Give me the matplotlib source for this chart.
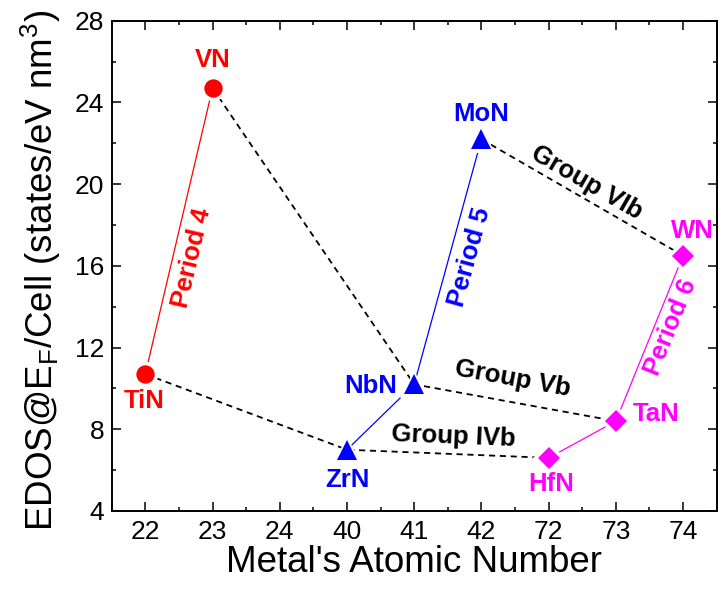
import numpy as np
import matplotlib
matplotlib.use("Agg")
import matplotlib.pyplot as plt
from matplotlib import font_manager

plt.rcParams['font.family'] = ['Liberation Sans', 'DejaVu Sans']
plt.rcParams['mathtext.default'] = 'regular'

installed = {f.name for f in font_manager.fontManager.ttflist}
if 'Liberation Sans Narrow' in installed:
    axis_label_font = dict(family=['Liberation Sans Narrow', 'Liberation Sans'], size=31)
else:
    axis_label_font = dict(family=['Liberation Sans', 'DejaVu Sans'], size=26.5)

# Category axis: metal atomic numbers
atomic_numbers = ['22', '23', '24', '40', '41', '42', '72', '73', '74']

# Period 4 / 5 / 6 nitrides
p4_names = ['TiN', 'VN']
p4_z = ['22', '23']
p4_edos = [10.7, 24.7]

p5_names = ['ZrN', 'NbN', 'MoN']
p5_z = ['40', '41', '42']
p5_edos = [7.0, 10.2, 22.2]

p6_names = ['HfN', 'TaN', 'WN']
p6_z = ['72', '73', '74']
p6_edos = [6.6, 8.4, 16.5]

# Group connections (by compound name)
group_IVb = ['TiN', 'ZrN', 'HfN']
group_Vb = ['VN', 'NbN', 'TaN']
group_VIb = ['MoN', 'WN']

RED, BLUE, MAG = '#FF0000', '#0000FF', '#FF00FF'

fig = plt.figure(figsize=(7.22, 5.91), dpi=100)
ax = fig.add_axes([111.7 / 722, 1 - 511 / 591, (716.7 - 111.7) / 722, (511 - 20.7) / 591])
ax.set_xlim(-0.5, len(atomic_numbers) - 0.5)
ax.set_ylim(4, 28)

points = {}
for names, zs, vals in [(p4_names, p4_z, p4_edos), (p5_names, p5_z, p5_edos), (p6_names, p6_z, p6_edos)]:
    for n, z, v in zip(names, zs, vals):
        points[n] = (atomic_numbers.index(z), v)

def xy(names):
    return [points[n][0] for n in names], [points[n][1] for n in names]

# Period lines (solid)
for names, col in [(p4_names, RED), (p5_names, BLUE), (p6_names, MAG)]:
    x, y = xy(names)
    ax.plot(x, y, color=col, lw=0.9, zorder=2)

# Group lines (dashed)
for names in [group_IVb, group_Vb, group_VIb]:
    x, y = xy(names)
    ax.plot(x, y, color='black', lw=1.3, ls=(0, (3.4, 2.6)), zorder=2)

# Markers with white halo to leave a gap where lines meet the symbols
for names, col, mk, ms in [(p4_names, RED, 'o', 13.2), (p5_names, BLUE, '^', 14.5), (p6_names, MAG, 'D', 11.0)]:
    x, y = xy(names)
    ax.plot(x, y, ls='none', marker=mk, ms=ms + 5, color='white', mew=0, zorder=3)
    ax.plot(x, y, ls='none', marker=mk, ms=ms, color=col, mew=0, zorder=4)

# Compound labels
label_offsets = {
    'TiN': (-1, -19), 'VN': (0, 20),
    'ZrN': (0, -22), 'NbN': (-31, -1), 'MoN': (0, 18),
    'HfN': (2, -19), 'TaN': (29, 5), 'WN': (7, 18),
}
label_colors = {'TiN': RED, 'VN': RED, 'ZrN': BLUE, 'NbN': BLUE, 'MoN': BLUE,
                'HfN': MAG, 'TaN': MAG, 'WN': MAG}
for n, off in label_offsets.items():
    ax.annotate(n, points[n], xytext=off, textcoords='offset points',
                ha='center', va='center', fontsize=18.5, fontweight='bold',
                color=label_colors[n], zorder=5)

# Rotated labels along segments
def seg_label(text, a, b, off, col):
    pa = ax.transData.transform(points[a])
    pb = ax.transData.transform(points[b])
    ang = np.degrees(np.arctan2(pb[1] - pa[1], pb[0] - pa[0]))
    mid = ((points[a][0] + points[b][0]) / 2, (points[a][1] + points[b][1]) / 2)
    ax.annotate(text, mid, xytext=off, textcoords='offset points',
                ha='center', va='center', rotation=ang, rotation_mode='anchor',
                fontsize=18.5, fontweight='bold', color=col, zorder=5)

seg_label('Period 4', 'TiN', 'VN', (9.4, -19.4), RED)
seg_label('Period 5', 'NbN', 'MoN', (16.1, 3.1), BLUE)
seg_label('Period 6', 'TaN', 'WN', (15, 8), MAG)
seg_label('Group IVb', 'ZrN', 'HfN', (4, 12.3), 'black')
seg_label('Group Vb', 'NbN', 'TaN', (-1.4, 17.3), 'black')
seg_label('Group VIb', 'MoN', 'WN', (3.4, 10.9), 'black')

# Axes styling
ax.set_xticks(range(len(atomic_numbers)))
ax.set_xticklabels(atomic_numbers)
ax.set_xticks([i + 0.5 for i in range(len(atomic_numbers) - 1)], minor=True)
ax.set_yticks(np.arange(4, 29, 4))
ax.set_yticks(np.arange(6, 28, 4), minor=True)
ax.tick_params(which='both', direction='in', top=True, right=True, width=1.1, colors='black')
ax.tick_params(which='major', length=6.2, labelsize=19)
ax.tick_params(which='minor', length=3.2)
ax.tick_params(axis='x', which='major', pad=6.5)
ax.tick_params(axis='y', which='major', pad=5.5)
for s in ax.spines.values():
    s.set_linewidth(1.4)

ax.set_xlabel("Metal's Atomic Number", labelpad=1, **axis_label_font)
ax.set_ylabel(r'EDOS@E$_F$/Cell (states/eV nm$^3$)', **axis_label_font)
ax.yaxis.set_label_coords(-0.08, 0.49)

fig.savefig('out.png', dpi=100)
